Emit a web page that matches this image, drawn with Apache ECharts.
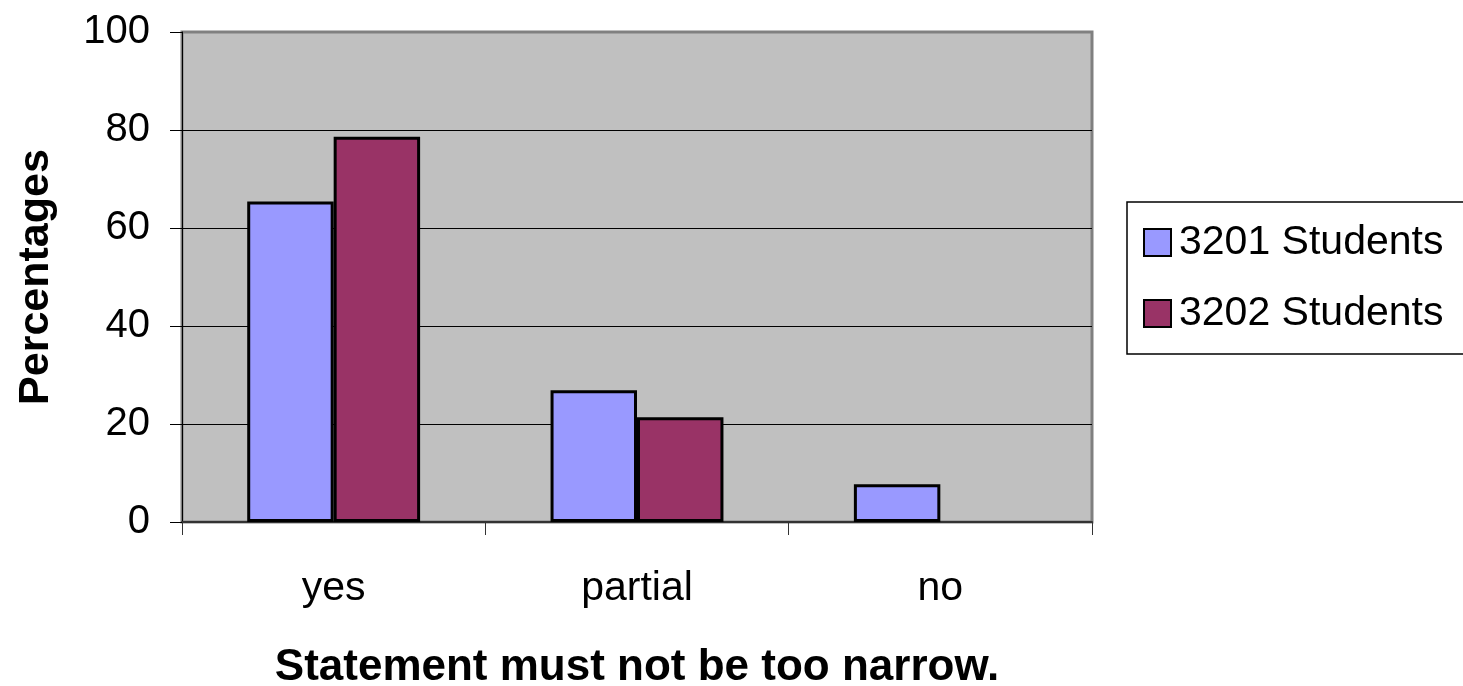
<!DOCTYPE html>
<html>
<head>
<meta charset="utf-8">
<script src="https://cdn.jsdelivr.net/npm/echarts@6/dist/echarts.min.js"></script>
<style>
html,body{margin:0;padding:0;background:#fff;}
#c{width:1463px;height:686px;}
</style>
</head>
<body>
<div id="c"></div>
<script>
const categories = ['yes', 'partial', 'no'];
const seriesNames = ['3201 Students', '3202 Students'];
const s3201 = [65.4, 26.9, 7.7];
const s3202 = [78.6, 21.4, 0];
const yTicks = [0, 20, 40, 60, 80, 100];

const FONT = "'Liberation Sans', Arial, sans-serif";
const toItems = arr => arr.map(v => (v === 0 ? {value: v, itemStyle: {borderWidth: 0}} : v));
const chart = echarts.init(document.getElementById('c'), null, {renderer: 'canvas'});
chart.setOption({
  backgroundColor: '#ffffff',
  animation: false,
  textStyle: {fontFamily: FONT, color: '#000'},
  grid: {
    left: 182, top: 32, width: 910, height: 490,
    containLabel: false, outerBoundsMode: 'none',
    show: true, backgroundColor: '#C0C0C0', borderColor: '#808080', borderWidth: 3
  },
  legend: {
    orient: 'vertical',
    left: 1127, top: 202,
    padding: [20, 22, 20, 16],
    itemWidth: 27, itemHeight: 27,
    itemGap: 30,
    icon: 'rect',
    borderColor: '#000', borderWidth: 1.5,
    textStyle: {fontFamily: FONT, fontSize: 41, color: '#000', padding: [0, 0, 0, 3]},
    data: seriesNames
  },
  xAxis: {
    type: 'category',
    data: categories,
    name: 'Statement must not be too narrow.',
    nameLocation: 'middle',
    nameGap: 124,
    nameTextStyle: {fontFamily: FONT, fontSize: 44, fontWeight: 'bold', color: '#000'},
    axisLine: {show: true, lineStyle: {color: '#333', width: 2}},
    axisTick: {show: true, alignWithLabel: false, length: 13, lineStyle: {color: '#333', width: 1}},
    axisLabel: {fontFamily: FONT, fontSize: 41, color: '#000', margin: 46},
    splitLine: {show: false}
  },
  yAxis: {
    type: 'value',
    min: 0, max: 100, interval: 20,
    name: 'Percentages',
    nameLocation: 'middle',
    nameGap: 124,
    nameTextStyle: {fontFamily: FONT, fontSize: 43, fontWeight: 'bold', color: '#000'},
    axisLine: {show: true, lineStyle: {color: '#000', width: 1}},
    axisTick: {show: true, length: 12, lineStyle: {color: '#000', width: 1}},
    axisLabel: {
      fontFamily: FONT, fontSize: 40, color: '#000', margin: 32,
      formatter: v => (yTicks.indexOf(v) >= 0 ? String(v) : '')
    },
    splitLine: {show: true, lineStyle: {color: ['#000', '#000', '#000', '#000', '#000', '#808080'], width: 1}}
  },
  series: [
    {
      name: seriesNames[0], type: 'bar', data: toItems(s3201),
      barGap: '0%', barCategoryGap: '43%',
      itemStyle: {color: '#9999FF', borderColor: '#000', borderWidth: 3}
    },
    {
      name: seriesNames[1], type: 'bar', data: toItems(s3202),
      barGap: '0%', barCategoryGap: '43%',
      itemStyle: {color: '#993366', borderColor: '#000', borderWidth: 3}
    }
  ]
});
</script>
</body>
</html>
